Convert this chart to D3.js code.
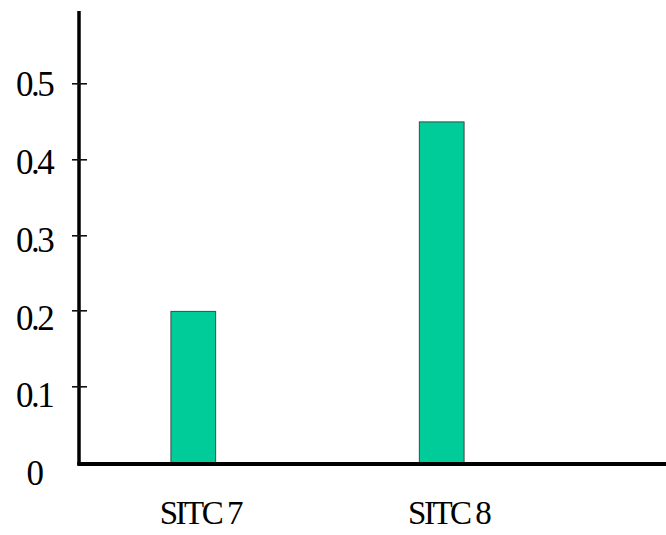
<!DOCTYPE html>
<html>
<head>
<meta charset="utf-8">
<script src="https://cdn.jsdelivr.net/npm/d3@7"></script>
<style>
  html, body { margin: 0; padding: 0; background: #fff; }
  svg { display: block; }
  text { font-family: "Liberation Serif", "Times New Roman", serif; fill: #000; }
</style>
</head>
<body>
<svg id="chart"></svg>
<script>
// chart data
const categories = ["SITC 7", "SITC 8"];
const values = [0.2, 0.45];
const yTicks = [0, 0.1, 0.2, 0.3, 0.4, 0.5];

const width = 666, height = 535;
const axisX = 79, axisY = 463, axisTop = 11;

const svg = d3.select("#chart").attr("width", width).attr("height", height);

const x = d3.scaleBand().domain(categories).range([axisX, 556]).paddingInner(0.82).paddingOuter(0.37);
const y = d3.scaleLinear().domain([0, 0.5]).range([axisY, 84]);

// bars
svg.append("g").selectAll("rect").data(values).enter().append("rect")
    .attr("x", (d, i) => x(categories[i]))
    .attr("y", d => y(d))
    .attr("width", x.bandwidth())
    .attr("height", d => y(0) - y(d))
    .attr("fill", "#00cc99")
    .attr("stroke", "#3d4a45")
    .attr("stroke-width", 1);

// y tick labels, drift down slightly toward the bottom as in the original
svg.append("g").selectAll("text").data(yTicks).enter().append("text")
    .attr("x", 34)
    .attr("y", v => y(v) + 10 * (1 - v / 0.5))
    .attr("dy", "0.35em")
    .attr("text-anchor", "middle")
    .attr("font-size", 35)
    .attr("letter-spacing", -2.5)
    .text(v => d3.format("")(v));

// axis lines
svg.append("line").attr("x1", axisX).attr("x2", axisX).attr("y1", axisTop).attr("y2", axisY + 2)
    .attr("stroke", "#000").attr("stroke-width", 3.5);
svg.append("line").attr("x1", axisX - 1.7).attr("x2", width).attr("y1", axisY + 1).attr("y2", axisY + 1)
    .attr("stroke", "#000").attr("stroke-width", 4);

// small tick marks crossing the y axis
svg.append("g").attr("class", "yticks").selectAll("rect").data(yTicks.filter(v => v > 0)).enter().append("rect")
    .attr("x", axisX - 7).attr("width", 15)
    .attr("y", v => Math.round(y(v)) - 1).attr("height", 1.6)
    .attr("fill", "#111");

// x category labels
const xAxis = d3.axisBottom(x).tickSize(0);
const gx = svg.append("g").attr("transform", `translate(0,${axisY})`).call(xAxis);
gx.select(".domain").remove();
gx.selectAll(".tick text")
    .attr("y", 61)
    .attr("dy", 0)
    .attr("dx", 7)
    .attr("font-size", 33)
    .attr("letter-spacing", -2.5)
    .attr("font-family", "Liberation Serif, Times New Roman, serif")
    .attr("fill", "#000");
</script>
</body>
</html>
